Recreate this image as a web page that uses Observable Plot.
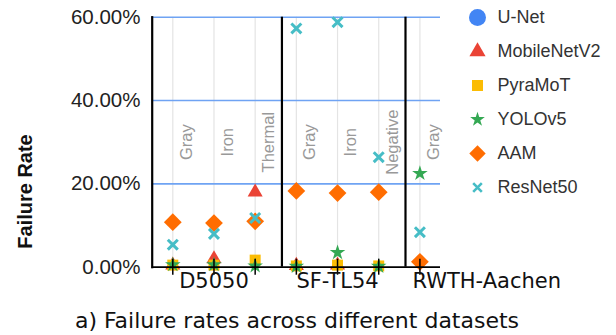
<!DOCTYPE html>
<html>
<head>
<meta charset="utf-8">
<script src="https://cdn.jsdelivr.net/npm/d3@7"></script>
<script src="https://cdn.jsdelivr.net/npm/@observablehq/plot@0.6"></script>
<style>
  html, body { margin: 0; padding: 0; background: #fff; }
  #wrap { position: relative; width: 616px; height: 335px; overflow: hidden; font-family: "Liberation Sans", Arial, sans-serif; }
  #main { position: absolute; left: 0; top: 0; }
  #legend { position: absolute; left: 460px; top: 0; }
  #caption { position: absolute; left: 0; width: 594px; top: 308px; text-align: center; font-family: "DejaVu Sans", sans-serif; font-size: 22px; color: #111; white-space: nowrap; }
</style>
</head>
<body>
<div id="wrap">
  <div id="main"></div>
  <div id="legend"></div>
  <div id="caption">a) Failure rates across different datasets</div>
</div>
<script>
// ---- data ----
const categories = ["Gray", "Iron", "Thermal", "Gray", "Iron", "Negative", "Gray"];
const datasets = ["D5050", "D5050", "D5050", "SF-TL54", "SF-TL54", "SF-TL54", "RWTH-Aachen"];
const seriesNames = ["U-Net", "MobileNetV2", "PyraMoT", "YOLOv5", "AAM", "ResNet50"];
const seriesColors = ["#4285F4", "#EA4335", "#FBBC04", "#34A853", "#FF6D01", "#46BDC6"];
const seriesSymbols = ["circle", "triangle", "square", "star", "diamond2", "times"];
const unet        = [null, null, null, null, null, null, null];
const mobilenetv2 = [0.5, 2.0, 18.0, 0.4, 0.5, null, null];
const pyramot     = [0.5, 0.5, 1.7, 0.3, 0.5, 0.3, null];
const yolov5      = [0.6, 0.6, 0.3, 0.2, 3.5, 0.2, 22.5];
const aam         = [10.8, 10.6, 11.0, 18.3, 17.8, 18.0, 1.3];
const resnet50    = [5.4, 8.0, 11.8, 57.3, 58.8, 26.4, 8.4];
const yTicks = [0, 20, 40, 60];
const gridValues = [20, 40, 60];
const separators = [2.65, 5.65];

const seriesValues = [unet, mobilenetv2, pyramot, yolov5, aam, resnet50];
const idx = categories.map((_, i) => i);

// marker radius per symbol (Plot r)
const chartR = {circle: 7, triangle: 5.6, square: 6.2, star: 4.9, diamond2: 8.0, times: 4.6};
const legendR = {circle: 8.5, triangle: 6.0, square: 6.2, star: 4.6, diamond2: 7.4, times: 4.0};

const groups = Array.from(new Set(datasets)).map(name => {
  const ii = idx.filter(i => datasets[i] === name);
  return {name, center: d3.mean(ii)};
});

const dotMarks = seriesNames.map((name, s) => {
  const sym = seriesSymbols[s];
  const data = idx.filter(i => seriesValues[s][i] != null).map(i => ({i, v: seriesValues[s][i]}));
  const stroked = sym === "times";
  return Plot.dot(data, {
    x: "i", y: "v", symbol: () => sym, r: chartR[sym],
    fill: stroked ? "none" : seriesColors[s],
    stroke: stroked ? seriesColors[s] : "none",
    strokeWidth: stroked ? 3 : 0
  });
});

const gridBlue = "#6fa3f3";

const main = Plot.plot({
  width: 616, height: 300,
  marginLeft: 151.7, marginRight: 176, marginTop: 16.7, marginBottom: 33.3,
  x: {domain: [-0.5, 6.5], axis: null},
  y: {domain: [0, 60]},
  style: {background: "transparent", fontFamily: "'Liberation Sans', Arial, sans-serif", overflow: "visible"},
  marks: [
    Plot.ruleX(idx, {x: d => d, stroke: "#e4e4e4", strokeWidth: 1.2}),
    Plot.ruleY(gridValues, {y: d => d, stroke: gridBlue, strokeWidth: 1.6}),
    Plot.text(idx, {x: d => d, y: () => 30, text: d => categories[d], rotate: -90, dx: 13.5,
      fill: "#999", fontSize: 16.5}),
    ...dotMarks,
    Plot.ruleX(separators, {x: d => d, stroke: "#000", strokeWidth: 2.2}),
    Plot.frame({anchor: "left", stroke: "#000", strokeWidth: 2.2}),
    Plot.ruleY([0], {y: d => d, stroke: "#000", strokeWidth: 1.8}),
    Plot.ruleX(idx, {x: d => d, y1: 0, y2: 0, insetTop: -8, insetBottom: -8, stroke: "#000", strokeWidth: 1.5}),
    Plot.axisY({ticks: yTicks, tickSize: 0, tickPadding: 11.7, fontSize: 20.5, label: null,
      tickFormat: d => d.toFixed(2) + "%", fill: "#222"}),
    Plot.text(["Failure Rate"], {frameAnchor: "left", textAnchor: "middle", rotate: -90, dx: -126.7, dy: 49.3,
      fontWeight: "bold", fontSize: 20, fill: "#111"}),
    Plot.text(groups.slice(0, -1), {x: "center", text: "name", frameAnchor: "bottom", dy: 21,
      fontSize: 21, fontFamily: "'DejaVu Sans', sans-serif", fill: "#111"}),
    Plot.text(groups.slice(-1), {x: "center", text: "name", frameAnchor: "bottom", dy: 21, dx: -7.5,
      textAnchor: "start", fontSize: 21, fontFamily: "'DejaVu Sans', sans-serif", fill: "#111"})
  ]
});
document.getElementById("main").appendChild(main);

const legendMarks = seriesNames.map((name, s) => {
  const sym = seriesSymbols[s];
  const stroked = sym === "times";
  return Plot.dot([name], {
    y: d => d, frameAnchor: "left", symbol: () => sym, r: legendR[sym],
    fill: stroked ? "none" : seriesColors[s],
    stroke: stroked ? seriesColors[s] : "none",
    strokeWidth: stroked ? 2.6 : 0
  });
});

const legend = Plot.plot({
  width: 156, height: 205,
  marginLeft: 17, marginRight: 0, marginTop: 15, marginBottom: 16,
  y: {type: "point", domain: seriesNames, padding: 0, axis: null},
  style: {background: "transparent", fontFamily: "'Liberation Sans', Arial, sans-serif", overflow: "visible"},
  marks: [
    ...legendMarks,
    Plot.text(seriesNames, {y: d => d, frameAnchor: "left", dx: 20, textAnchor: "start",
      fontSize: 18, fill: "#333"})
  ]
});
document.getElementById("legend").appendChild(legend);
</script>
</body>
</html>
